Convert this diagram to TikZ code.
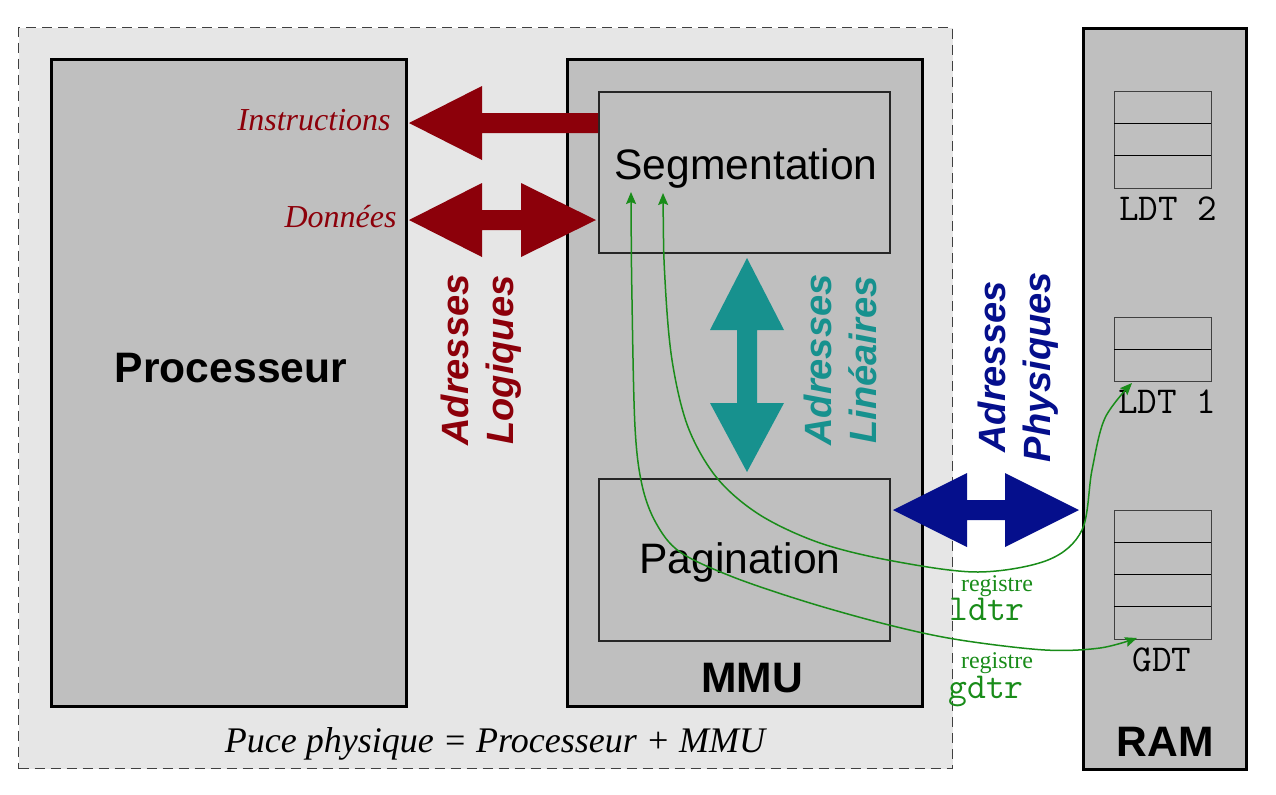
\documentclass[tikz,border=0pt]{standalone}
\usepackage{fontspec}
\setmainfont{Liberation Serif}
\setsansfont{Liberation Sans}
\usetikzlibrary{arrows.meta}
\definecolor{boxgray}{RGB}{191,191,191}
\definecolor{chipgray}{RGB}{230,230,230}
\definecolor{logred}{RGB}{140,0,10}
\definecolor{linteal}{RGB}{23,145,142}
\definecolor{phyblue}{RGB}{5,15,140}
\definecolor{regreen}{RGB}{25,140,25}
\begin{document}
\begin{tikzpicture}[x=0.5pt,y=-0.5pt,
  chip/.style={draw=black!75,line width=0.5pt,dash pattern=on 5pt off 3pt,fill=chipgray,anchor=north west,inner sep=0pt},
  bigbox/.style={draw=black,line width=1.5pt,fill=boxgray,anchor=north west,inner sep=0pt},
  inbox/.style={draw=black!85,line width=0.8pt,fill=boxgray,anchor=north west,inner sep=0pt},
  tbl/.style={draw=black!75,line width=0.5pt,fill=boxgray,anchor=north west,inner sep=0pt,minimum width=48.5pt},
  rowline/.style={draw=black,line width=0.5pt},
  big/.style={font=\fontsize{21.3}{25}\selectfont\sffamily,inner sep=0pt},
  bigb/.style={font=\fontsize{21.3}{25}\selectfont\sffamily\bfseries,inner sep=0pt},
  vert/.style={font=\fontsize{19}{22.5}\selectfont\sffamily\bfseries\itshape,rotate=90,align=center,inner sep=0pt},
  side/.style={font=\fontsize{16}{19}\selectfont\itshape,text=logred,anchor=east,inner sep=0pt},
  ttlab/.style={font=\fontsize{19}{22}\selectfont\ttfamily,inner sep=0pt},
  reg/.style={font=\fontsize{12}{14}\selectfont,text=regreen,inner sep=0pt},
  regtt/.style={font=\fontsize{18.3}{20}\selectfont\ttfamily,text=regreen,inner sep=0pt},
  gline/.style={draw=regreen,line width=0.75pt,arrows={Stealth[length=6pt,width=5pt,inset=1pt]-Stealth[length=6pt,width=5pt,inset=1pt]}}
]
\useasboundingbox (0,0) rectangle (1276,794);

% chip and boxes
\node[chip,minimum width=467pt,minimum height=370.5pt] (puce) at (18,27) {};
\node[bigbox,minimum width=177.5pt,minimum height=323.5pt] (proc) at (50,58) {};
\node[bigbox,minimum width=177.5pt,minimum height=323.5pt] (mmu) at (566,58) {};
\node[inbox,minimum width=145.5pt,minimum height=80.5pt] (seg) at (598,91) {};
\node[inbox,minimum width=145.5pt,minimum height=81pt] (pag) at (598,478) {};
\node[bigbox,minimum width=81.5pt,minimum height=370.5pt] (ram) at (1082,27) {};

% tables
\node[tbl,minimum height=48.5pt] (ldt2) at (1114,91) {};
\draw[rowline] (1114,123.3) -- (1211,123.3) (1114,155.7) -- (1211,155.7);
\node[tbl,minimum height=32pt] (ldt1) at (1114,317) {};
\draw[rowline] (1114,349) -- (1211,349);
\node[tbl,minimum height=64.5pt] (gdt) at (1114,510) {};
\draw[rowline] (1114,542.3) -- (1211,542.3) (1114,574.5) -- (1211,574.5) (1114,606.8) -- (1211,606.8);

% texts
\node[bigb] (tproc) at (231,368) {Processeur};
\node[bigb] (tmmu) at (752,678) {MMU};
\node[bigb] (tram) at (1165,742) {RAM};
\node[big] (tseg) at (746,168) {Segmentation};
\node[big] (tpag) at (740,562) {Pagination};
\node[side] (tins) at (391,120) {Instructions};
\node[side] (tdon) at (397,217) {Données};
\node[font=\fontsize{18}{21}\selectfont\itshape,inner sep=0pt] (tpuce) at (495,744) {Puce physique = Processeur + MMU};
\node[ttlab] (lldt2) at (1168,209) {LDT 2};
\node[ttlab] (lldt1) at (1167,402) {LDT 1};
\node[ttlab] (lgdt) at (1162,660) {GDT};

% block arrows
\fill[logred] (409,123) -- (482,86) -- (482,113) -- (598,113) -- (598,133) -- (482,133) -- (482,160) -- cycle;
\fill[logred] (409,220) -- (482,183) -- (482,210) -- (521,210) -- (521,183) -- (596,220)
  -- (521,257) -- (521,230) -- (482,230) -- (482,257) -- cycle;
\fill[linteal] (747,258) -- (784,330) -- (757,330) -- (757,403) -- (784,403) -- (747,472)
  -- (710,403) -- (737,403) -- (737,330) -- (710,330) -- cycle;
\fill[phyblue] (893,510) -- (967,473) -- (967,500) -- (1005,500) -- (1005,473) -- (1079,510)
  -- (1005,547) -- (1005,520) -- (967,520) -- (967,547) -- cycle;

% rotated labels
\node[vert,text=logred] (alog) at (481,360) {Adresses\\Logiques};
\node[vert,text=linteal] (alin) at (840,360) {Adresses\\Linéaires};
\node[vert,text=phyblue] (aphy) at (1018,367) {Adresses\\Physiques};

% register labels
\node[reg] (r1) at (997,586) {registre};
\node[regtt] (ldtr) at (987,609) {ldtr};
\node[reg] (r2) at (997,663) {registre};
\node[regtt] (gdtr) at (986,691) {gdtr};

% green connectors
\coordinate (s1) at (631,192);
\coordinate (s2) at (663,193);
\coordinate (eg) at (1137,638);
\coordinate (el) at (1132,383);
\draw[gline] plot[smooth,tension=0.55] coordinates {(s1) (632,300) (635,427) (642,485) (656,523) (680,552) (733,577) (810,603) (893,626) (960,640) (1045,650) (1100,648) (eg)};
\draw[gline] plot[smooth,tension=0.55] coordinates {(s2) (665,280) (672,360) (688,427) (717,478) (760,515) (820,543) (893,561) (978,572) (1048,560) (1082,530) (1092,470) (1105,418) (el)};
\end{tikzpicture}
\end{document}
